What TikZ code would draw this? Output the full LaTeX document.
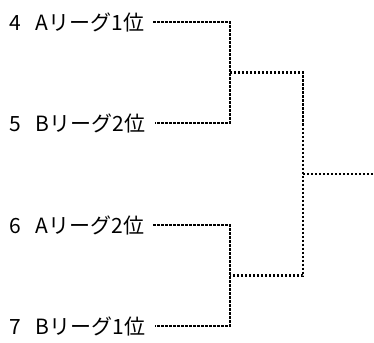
\documentclass[tikz,border=0pt]{standalone}
\usepackage{fontspec}
\setmainfont{Noto Sans CJK JP}
\begin{document}
\begin{tikzpicture}[x=1pt,y=-1pt,
  dotline/.style={line width=2.4pt,dash pattern=on 2.4pt off 1.6pt},
  lbl/.style={anchor=base west,inner sep=0pt,font=\fontsize{21}{24}\selectfont}]
\useasboundingbox (0,0) rectangle (374,342);
\node[lbl] (t4) at (9,30.5) {4\hspace{15pt}Aリーグ1位};
\node[lbl] (t5) at (9,131.5) {5\hspace{15pt}Bリーグ2位};
\node[lbl] (t6) at (9,233.5) {6\hspace{15pt}Aリーグ2位};
\node[lbl] (t7) at (9,334.5) {7\hspace{15pt}Bリーグ1位};
\coordinate (c4) at (230,22);
\coordinate (c5) at (230,123);
\coordinate (m1) at (230,72.5);
\coordinate (c6) at (230,225);
\coordinate (c7) at (230,326);
\coordinate (m2) at (230,275.5);
\coordinate (u) at (303,72.5);
\coordinate (d) at (303,275.5);
\coordinate (mm) at (303,174);
\coordinate (e) at (374,174);
\draw[dotline] ([xshift=9pt]t4.east |- c4) -- (c4) -- (c5) -- ([xshift=9pt]t5.east |- c5);
\draw[dotline] ([xshift=9pt]t6.east |- c6) -- (c6) -- (c7) -- ([xshift=9pt]t7.east |- c7);
\draw[dotline] (m1) -- (u) -- (d) -- (m2);
\draw[dotline] (mm) -- (e);
\end{tikzpicture}
\end{document}
